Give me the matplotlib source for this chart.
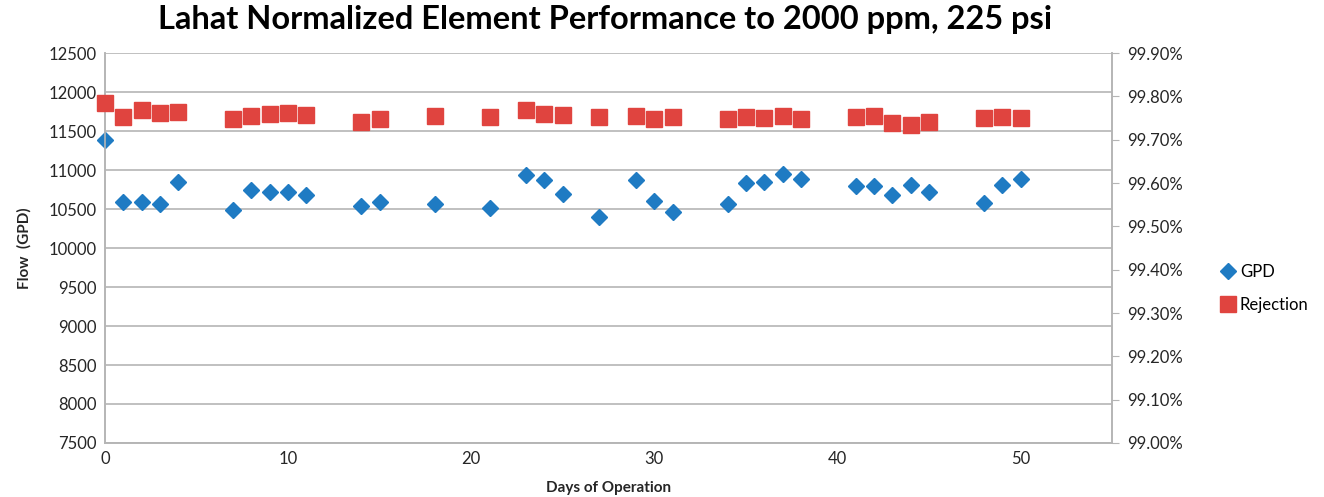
import matplotlib
matplotlib.use("Agg")
import matplotlib.pyplot as plt
from matplotlib.ticker import FuncFormatter

plt.rcParams['font.family'] = ['Lato', 'DejaVu Sans']

days = [0, 1, 2, 3, 4, 7, 8, 9, 10, 11, 14, 15, 18, 21, 23, 24, 25, 27, 29, 30,
        31, 34, 35, 36, 37, 38, 41, 42, 43, 44, 45, 48, 49, 50]
gpd = [11390, 10590, 10590, 10570, 10847, 10490, 10745, 10720, 10720, 10677,
       10535, 10595, 10568, 10519, 10932, 10872, 10689, 10400, 10872, 10600,
       10464, 10570, 10838, 10847, 10945, 10889, 10796, 10796, 10685, 10804,
       10715, 10579, 10809, 10881]
rejection = [99.786, 99.752, 99.769, 99.762, 99.765, 99.748, 99.755, 99.759,
             99.763, 99.758, 99.742, 99.748, 99.755, 99.752, 99.768, 99.760,
             99.757, 99.753, 99.755, 99.749, 99.753, 99.748, 99.752, 99.751,
             99.755, 99.749, 99.752, 99.754, 99.738, 99.734, 99.742, 99.751,
             99.752, 99.751]

blue = '#1f7bc3'
red = '#e0443f'
grid = '#b5b5b5'
txt = '#262626'

fig = plt.figure(figsize=(13.24, 4.97), dpi=100)
ax = fig.add_axes([0.0793, 0.1087, 0.7607, 0.7843])
ax2 = ax.twinx()

h1, = ax.plot(days, gpd, linestyle='none', marker='D', markersize=8,
              color=blue, label='GPD', clip_on=False, zorder=3)
h2, = ax2.plot(days, rejection, linestyle='none', marker='s', markersize=11,
               color=red, label='Rejection', clip_on=False, zorder=3)

ax.set_xlim(0, 55)
ax.set_ylim(7500, 12500)
ax.set_xticks([0, 10, 20, 30, 40, 50])
ax.set_yticks(range(7500, 12501, 500))
ax2.set_ylim(99.0, 99.9)
ax2.set_yticks([99.0 + 0.1 * i for i in range(10)])
ax2.yaxis.set_major_formatter(FuncFormatter(lambda v, p: f"{v:.2f}%"))

ax.yaxis.grid(True, color=grid, linewidth=1.2)
ax.set_axisbelow(True)
for a in (ax, ax2):
    for s in a.spines.values():
        s.set_color(grid)
        s.set_linewidth(1.2)
    a.spines['top'].set_visible(False)

ax.tick_params(axis='both', length=0, labelsize=12, labelcolor=txt, pad=6)
ax2.tick_params(axis='y', length=5, color=grid, labelsize=12, labelcolor=txt, pad=6)

ax.set_xlabel('Days of Operation', fontsize=11, fontweight='bold', color=txt, labelpad=10)
ax.set_ylabel('Flow  (GPD)', fontsize=11, fontweight='bold', color=txt, labelpad=12)

fig.suptitle('Lahat Normalized Element Performance to 2000 ppm, 225 psi',
             x=0.457, y=0.99, fontsize=23.5, fontweight='bold', color='black')

fig.legend(handles=[h1, h2], loc='center left', bbox_to_anchor=(0.91, 0.42),
           frameon=False, fontsize=12, handletextpad=0.2, labelspacing=1.0,
           handlelength=1.0)

fig.savefig('out.png', dpi=100)
